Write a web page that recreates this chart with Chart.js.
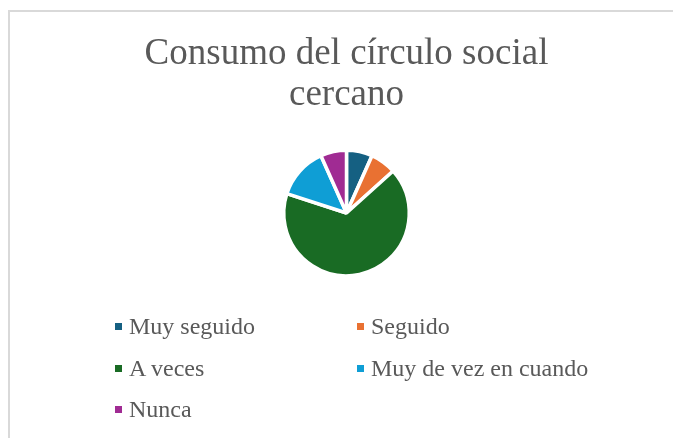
<!DOCTYPE html>
<html>
<head>
<meta charset="utf-8">
<script src="https://cdn.jsdelivr.net/npm/chart.js@4"></script>
<style>
  html, body { margin: 0; padding: 0; background: #fff; }
  body { width: 673px; height: 438px; overflow: hidden; position: relative; }
  .frame {
    position: absolute; left: 8px; top: 10px; width: 700px; height: 460px;
    border: 2px solid #d9d9d9; box-sizing: border-box;
  }
  .chart-box { position: absolute; left: 10px; top: 10px; width: 673px; height: 428px; }
  .legend {
    position: absolute; left: 115px; top: 306px;
    display: grid; grid-template-columns: 242px 242px; grid-auto-rows: 41.5px;
    font-family: "Liberation Serif", "Times New Roman", serif;
    font-size: 24px; line-height: 41.5px; color: #595959;
  }
  .legend .item { position: relative; padding-left: 14px; white-space: nowrap; }
  .legend .swatch { position: absolute; left: 0; top: 17px; width: 7px; height: 7px; }
</style>
</head>
<body>
<div class="frame"></div>
<div class="chart-box"><canvas id="pie"></canvas></div>
<div class="legend" id="legend"></div>
<script>
// Data
const titleLines = ['Consumo del círculo social', 'cercano'];
const categories = ['Muy seguido', 'Seguido', 'A veces', 'Muy de vez en cuando', 'Nunca'];
const values = [2, 2, 20, 4, 2];
const colors = ['#156082', '#E97132', '#196B24', '#0F9ED5', '#A02B93'];

const ctx = document.getElementById('pie').getContext('2d');

const chart = new Chart(ctx, {
  type: 'pie',
  data: {
    labels: categories,
    datasets: [{
      data: values,
      backgroundColor: colors,
      borderColor: '#ffffff',
      borderWidth: 3.5,
      offset: 0,
      radius: 62.75
    }]
  },
  options: {
    responsive: true,
    maintainAspectRatio: false,
    animation: false,
    layout: {
      padding: { top: 0, bottom: 141 }
    },
    plugins: {
      legend: { display: false },
      tooltip: { enabled: false },
      title: {
        display: true,
        text: titleLines,
        color: '#595959',
        font: { family: '"Liberation Serif", "Times New Roman", serif', size: 37, weight: 'normal', lineHeight: 1.11 },
        padding: { top: 23.5, bottom: 13.4 }
      }
    }
  }
});

// Legend built from the same arrays
const legendEl = document.getElementById('legend');
categories.forEach((name, i) => {
  const item = document.createElement('div');
  item.className = 'item';
  const sw = document.createElement('span');
  sw.className = 'swatch';
  sw.style.background = colors[i];
  item.appendChild(sw);
  item.appendChild(document.createTextNode(name));
  legendEl.appendChild(item);
});
</script>
</body>
</html>
